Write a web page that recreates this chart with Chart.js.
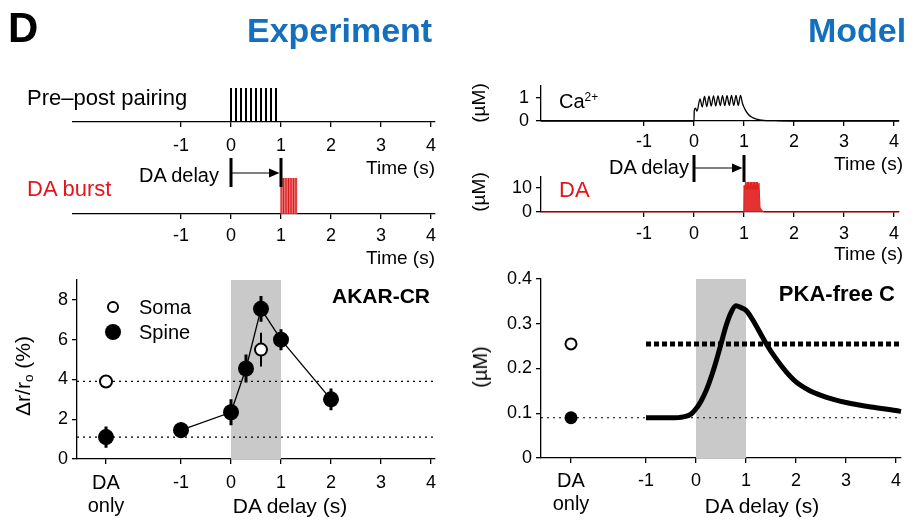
<!DOCTYPE html>
<html>
<head>
<meta charset="utf-8">
<script src="https://cdn.jsdelivr.net/npm/chart.js@4/dist/chart.umd.min.js"></script>
<style>
body { margin: 0; width: 919px; height: 521px; position: relative; background: #fff; overflow: hidden;
       font-family: Arial, "Liberation Sans", Helvetica, sans-serif; color: #000; }
canvas { position: absolute; left: 0; top: 0; }
.t { position: absolute; white-space: nowrap; line-height: 1; transform: translateY(-50%); }
.r { transform: translate(-100%, -50%); }
.c { transform: translate(-50%, -50%); }
.v { transform: translate(-50%, -50%) rotate(-90deg); }
.b { font-weight: bold; }
.blue { color: #1470bd; }
.red { color: #e3141c; }
.dot { position: absolute; border-radius: 50%; box-sizing: border-box; transform: translate(-50%, -50%); }
sup { font-size: 0.6em; vertical-align: 0.6em; }
sub { font-size: 0.65em; vertical-align: -0.25em; }
</style>
</head>
<body>
<canvas id="pairing" width="919" height="521"></canvas>
<canvas id="burst" width="919" height="521"></canvas>
<canvas id="akar" width="919" height="521"></canvas>
<canvas id="ca" width="919" height="521"></canvas>
<canvas id="da" width="919" height="521"></canvas>
<canvas id="pka" width="919" height="521"></canvas>

<div class="t b" style="left:8px;top:28px;font-size:42px">D</div>
<div class="t b blue" style="left:247px;top:30px;font-size:34px">Experiment</div>
<div class="t b blue" style="left:808px;top:30px;font-size:34px">Model</div>

<div class="t" style="left:27px;top:98px;font-size:22px">Pre–post pairing</div>
<div class="t red" style="left:27px;top:189px;font-size:22px">DA burst</div>
<div class="t r" style="left:219px;top:175px;font-size:20px">DA delay</div>
<div class="t r" style="left:435px;top:167px;font-size:19px">Time (s)</div>
<div class="t r" style="left:435px;top:257px;font-size:19px">Time (s)</div>

<div class="t v" style="left:478px;top:103px;font-size:19px">(µM)</div>
<div class="t" style="left:559px;top:101px;font-size:20px">Ca<sup>2+</sup></div>
<div class="t v" style="left:478px;top:192px;font-size:19px">(µM)</div>
<div class="t red" style="left:559px;top:190px;font-size:22px">DA</div>
<div class="t r" style="left:689px;top:167px;font-size:20px">DA delay</div>
<div class="t r" style="left:903px;top:163px;font-size:19px">Time (s)</div>
<div class="t r" style="left:903px;top:253px;font-size:19px">Time (s)</div>

<div class="t v" style="left:24px;top:376px;font-size:21px">Δr/r<sub>o</sub> (%)</div>
<div class="t r b" style="left:430px;top:295px;font-size:21px">AKAR-CR</div>
<div class="dot" style="left:113px;top:307px;width:12px;height:12px;border:2px solid #000;background:#fff"></div>
<div class="t" style="left:139px;top:307px;font-size:20px">Soma</div>
<div class="dot" style="left:113px;top:332px;width:16px;height:16px;background:#000"></div>
<div class="t" style="left:139px;top:332px;font-size:20px">Spine</div>
<div class="t c" style="left:290px;top:505px;font-size:21px">DA delay (s)</div>

<div class="t v" style="left:480px;top:367px;font-size:20px">(µM)</div>
<div class="t r b" style="left:895px;top:294px;font-size:22px">PKA-free C</div>
<div class="t c" style="left:762px;top:505px;font-size:21px">DA delay (s)</div>

<script>
Chart.defaults.font.family = 'Arial, "Liberation Sans", Helvetica, sans-serif';
Chart.defaults.color = '#000';

const W = 919, H = 521;
const DA_ONLY = -2.5;

// ticks
const timeTicks = [-1, 0, 1, 2, 3, 4];
const delayTicks = [DA_ONLY, -1, 0, 1, 2, 3, 4];
const akarTicks = [0, 2, 4, 6, 8];
const pkaTicks = [0, 0.1, 0.2, 0.3, 0.4];
const caTicks = [0, 1];
const daTicks = [0, 10];

// protocol
const pairWindow = [0, 1];
const delay = [0, 1];
const pairSpikes = [0, 0.1, 0.2, 0.3, 0.4, 0.5, 0.6, 0.7, 0.8, 0.9];
const daPulses = [1, 1.05, 1.1, 1.15, 1.2, 1.25, 1.3];
const daBurstEnd = 1.33;

// model traces
const caTime = [-3.06, 0, 0.005, 0.03, 0.06, 0.12, 0.165, 0.21, 0.255, 0.3, 0.345, 0.39, 0.435, 0.48, 0.525,
  0.57, 0.615, 0.66, 0.705, 0.75, 0.795, 0.84, 0.885, 0.93, 0.97, 1.02, 1.08, 1.15, 1.25, 1.4, 1.7, 2.2, 4.1];
const caConc = [0, 0, 0.45, 0.55, 0.42, 0.95, 0.6, 1.05, 0.62, 1.07, 0.64, 1.08, 0.65, 1.08, 0.66,
  1.09, 0.66, 1.09, 0.67, 1.1, 0.67, 1.1, 0.67, 1.1, 0.75, 0.5, 0.3, 0.17, 0.08, 0.03, 0.01, 0, 0];
const daTime = [-3.06, 0.995, 1.0, 1.015, 1.03, 1.045, 1.06, 1.075, 1.09, 1.105, 1.12, 1.135, 1.15, 1.165,
  1.18, 1.195, 1.21, 1.225, 1.24, 1.255, 1.27, 1.285, 1.3, 1.32, 1.35, 1.4, 4.1];
const daConc = [0, 0, 11, 9.5, 12.5, 9.5, 12.5, 9.5, 12.5, 9.5, 12.5, 9.5, 12.5, 9.5,
  12.5, 9.5, 12.5, 9.5, 12.5, 9.5, 12.5, 9.5, 12, 2, 0.8, 0, 0];

// AKAR-CR experiment
const akarDelay = [-1, 0, 0.3, 0.6, 1, 2];
const akarSpine = [1.45, 2.35, 4.55, 7.55, 6.0, 3.0];
const akarSpineErr = [0.4, 0.65, 0.7, 0.65, 0.53, 0.55];
const akarSomaDelay = [0.6];
const akarSoma = [5.5];
const akarSomaErr = [0.85];
const akarOnlySpine = 1.1, akarOnlySpineErr = 0.53;
const akarOnlySoma = 3.9, akarOnlySomaErr = 0.28;

// PKA-free C model
const pkaTime = [-1, -0.5, -0.25, -0.1, 0, 0.1, 0.2, 0.3, 0.4, 0.5, 0.6, 0.7, 0.8, 0.9, 1.0,
  1.1, 1.2, 1.3, 1.4, 1.6, 1.8, 2.0, 2.25, 2.5, 2.75, 3.0, 3.5, 4.0, 4.1];
const pkaConc = [0.09, 0.09, 0.092, 0.098, 0.11, 0.127, 0.15, 0.18, 0.215, 0.255, 0.295, 0.325, 0.34, 0.336, 0.33,
  0.315, 0.296, 0.276, 0.256, 0.222, 0.193, 0.17, 0.152, 0.14, 0.131, 0.124, 0.114, 0.106, 0.104];
const pkaOnlySoma = 0.255, pkaOnlySpine = 0.09;

const pts = (xs, ys) => xs.map((x, i) => ({x, y: ys[i]}));
const segs = (xs, lo, hi) => xs.flatMap((x, i) => [{x, y: lo[i]}, {x, y: hi[i]}, {x, y: null}]);
const errs = (xs, ys, es) => segs(xs, ys.map((y, i) => y - es[i]), ys.map((y, i) => y + es[i]));
const hline = (y, x0, x1) => [{x: x0, y}, {x: x1, y}];

function line(data, color, width, extra) {
  return Object.assign({data, showLine: true, borderColor: color, borderWidth: width, pointRadius: 0,
    fill: false, clip: false}, extra || {});
}

function xAxis(min, max, ticks, h, pad, z) {
  return {
    type: 'linear', min, max, z: z || 0,
    afterBuildTicks: s => { s.ticks = ticks.map(value => ({value})); },
    afterFit: s => { s.height = h; },
    border: {color: '#000', width: 1.3},
    grid: {drawOnChartArea: false, color: '#000', lineWidth: 1.3, tickLength: 5},
    ticks: {
      autoSkip: false, maxRotation: 0, padding: pad,
      font: c => (c.tick && c.tick.value === DA_ONLY) ? {size: 20, lineHeight: 1.15} : {size: 18},
      callback: v => v === DA_ONLY ? ['DA', 'only'] : String(v)
    }
  };
}

function yAxis(min, max, ticks, w, pad, z, fmt) {
  return {
    type: 'linear', min, max, z: z || 0,
    afterBuildTicks: s => { s.ticks = ticks.map(value => ({value})); },
    afterFit: s => { s.width = w; },
    border: {color: '#000', width: 1.3},
    grid: {drawOnChartArea: false, color: '#000', lineWidth: 1.3, tickLength: 5},
    ticks: {padding: pad, font: {size: 18}, callback: fmt || (v => String(v))}
  };
}

const delayArrow = {
  id: 'delayArrow',
  afterDatasetsDraw(chart, args, o) {
    const {ctx, chartArea} = chart;
    const x0 = chart.scales.x.getPixelForValue(delay[0]);
    const x1 = chart.scales.x.getPixelForValue(delay[1]);
    const ya = chartArea.top + o.arrow, yt = chartArea.top + o.barTop, yb = chartArea.top + o.barBottom;
    ctx.save();
    ctx.strokeStyle = '#000';
    ctx.fillStyle = '#000';
    ctx.lineWidth = 3;
    [x0, x1].forEach(px => { ctx.beginPath(); ctx.moveTo(px, yt); ctx.lineTo(px, yb); ctx.stroke(); });
    ctx.lineWidth = 1.2;
    ctx.beginPath(); ctx.moveTo(x0, ya); ctx.lineTo(x1 - 8, ya); ctx.stroke();
    ctx.beginPath(); ctx.moveTo(x1 - 1.5, ya); ctx.lineTo(x1 - 12, ya - 4.5); ctx.lineTo(x1 - 12, ya + 4.5);
    ctx.closePath(); ctx.fill();
    ctx.restore();
  }
};

function makeChart(id, padding, scales, datasets, extra) {
  const plugins = {legend: {display: false}, tooltip: {enabled: false}};
  if (extra) plugins.delayArrow = extra;
  return new Chart(document.getElementById(id), {
    type: 'scatter',
    data: {datasets},
    plugins: extra ? [delayArrow] : [],
    options: {
      responsive: false, animation: false, events: [],
      layout: {padding},
      scales,
      plugins
    }
  });
}

// Pre-post pairing spikes
makeChart('pairing', {left: 73, right: W - 435, top: 88, bottom: H - 122 - 30}, {
  x: xAxis(-3.16, 4.08, timeTicks, 30, 8.2),
  y: {display: false, min: 0, max: 1}
}, [
  line(segs(pairSpikes, pairSpikes.map(() => 0), pairSpikes.map(() => 1)), '#000', 2)
]);

// DA burst (experiment)
makeChart('burst', {left: 73, right: W - 435, top: 178, bottom: H - 214 - 30}, {
  x: xAxis(-3.16, 4.08, timeTicks, 30, 6.2),
  y: {display: false, min: 0, max: 1}
}, [
  line(segs(daPulses, daPulses.map(() => 0), daPulses.map(() => 1)), '#d61c1c', 1.2, {order: 0}),
  line(hline(1, daPulses[0], daBurstEnd), 'rgba(0,0,0,0)', 0,
    {fill: 'origin', backgroundColor: 'rgba(238,98,98,0.85)', order: 1})
], {arrow: -5, barTop: -20, barBottom: 9});

// AKAR-CR
const akarMax = 9;
makeChart('akar', {left: 37, right: W - 435, top: 280, bottom: H - 459 - 62}, {
  x: xAxis(-3.08, 4.08, delayTicks, 62, 8.2, 1),
  y: yAxis(0, akarMax, akarTicks, 40, 4, 1)
}, [
  {data: [{x: DA_ONLY, y: akarOnlySoma}].concat(pts(akarSomaDelay, akarSoma)), pointRadius: 6,
    pointBackgroundColor: '#fff', pointBorderColor: '#000', pointBorderWidth: 2, order: 0},
  {data: [{x: DA_ONLY, y: akarOnlySpine}].concat(pts(akarDelay, akarSpine)), pointRadius: 8,
    pointBackgroundColor: '#000', pointBorderColor: '#000', pointBorderWidth: 0, order: 1},
  line(errs([DA_ONLY].concat(akarDelay), [akarOnlySpine].concat(akarSpine), [akarOnlySpineErr].concat(akarSpineErr)),
    '#000', 3, {order: 2}),
  line(errs([DA_ONLY].concat(akarSomaDelay), [akarOnlySoma].concat(akarSoma), [akarOnlySomaErr].concat(akarSomaErr)),
    '#000', 2, {order: 2}),
  line(pts(akarDelay, akarSpine), '#000', 1.3, {order: 3}),
  line(hline(akarOnlySoma, -3.08, 4.08), '#000', 1.2, {borderDash: [2, 4], order: 4}),
  line(hline(akarOnlySpine, -3.08, 4.08), '#000', 1.2, {borderDash: [2, 4], order: 4}),
  line(hline(akarMax, pairWindow[0], pairWindow[1]), 'rgba(0,0,0,0)', 0,
    {fill: 'origin', backgroundColor: '#c9c9c9', order: 5})
]);

// Ca2+ model
makeChart('ca', {left: 501, right: W - 899, top: 86, bottom: H - 121 - 30}, {
  x: xAxis(-3.06, 4.1, timeTicks, 30, 5.2),
  y: yAxis(0, 1.5, caTicks, 40, 7)
}, [
  line(pts(caTime, caConc), '#000', 1.3, {cubicInterpolationMode: 'monotone'})
]);

// DA model
makeChart('da', {left: 501, right: W - 899, top: 177, bottom: H - 212 - 30}, {
  x: xAxis(-3.06, 4.1, timeTicks, 30, 6.2),
  y: yAxis(0, 14.6, daTicks, 40, 4)
}, [
  line(pts(daTime, daConc), '#e02020', 1, {fill: 'origin', backgroundColor: 'rgba(226,32,32,0.92)'})
], {arrow: -9, barTop: -22, barBottom: 5});

// PKA-free C model
const pkaMax = 0.4;
makeChart('pka', {left: 491, right: W - 901, top: 279, bottom: H - 458 - 63}, {
  x: xAxis(-3.1, 4.1, delayTicks, 63, 7, 1),
  y: yAxis(0, pkaMax, pkaTicks, 50, 4, 1, v => v === 0 ? '0' : v.toFixed(1))
}, [
  {data: [{x: DA_ONLY, y: pkaOnlySoma}], pointRadius: 5.5, pointBackgroundColor: '#fff',
    pointBorderColor: '#000', pointBorderWidth: 2, order: 0},
  {data: [{x: DA_ONLY, y: pkaOnlySpine}], pointRadius: 6.5, pointBackgroundColor: '#000',
    pointBorderWidth: 0, order: 0},
  line(pts(pkaTime, pkaConc), '#000', 5, {cubicInterpolationMode: 'monotone', order: 1}),
  line(hline(pkaOnlySoma, pkaTime[0], 4.1), '#000', 5, {borderDash: [5, 3], order: 2}),
  line(hline(pkaOnlySpine, -3.1, 4.1), '#000', 1.2, {borderDash: [2, 4], order: 3}),
  line(hline(pkaMax, pairWindow[0], pairWindow[1]), 'rgba(0,0,0,0)', 0,
    {fill: 'origin', backgroundColor: '#c9c9c9', order: 4})
]);
</script>
</body>
</html>
